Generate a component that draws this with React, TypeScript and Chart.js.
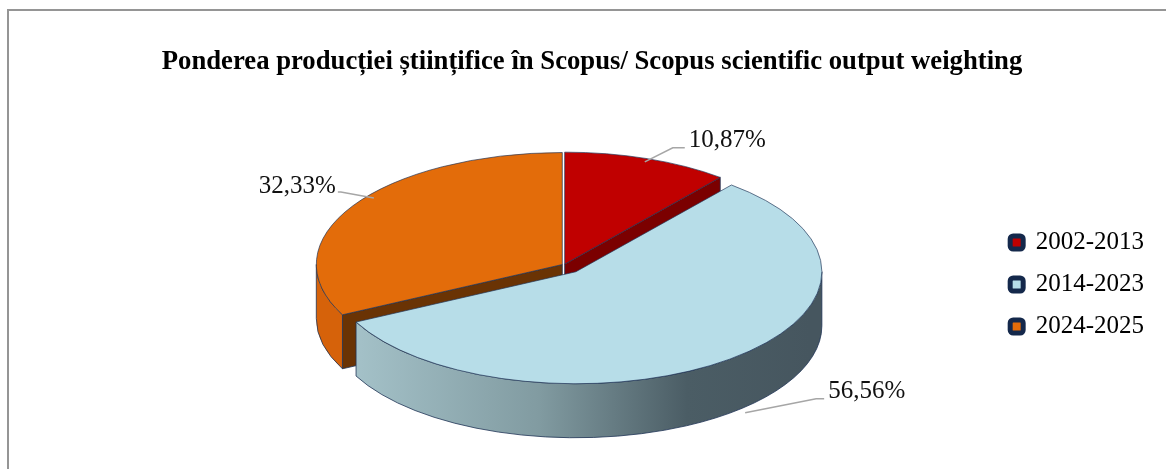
import React, { useEffect, useRef } from "react";
import { Chart, registerables } from "chart.js";

Chart.register(...registerables);

const TITLE = "Ponderea producției științifice în Scopus/ Scopus scientific output weighting";
const categories = ["2002-2013", "2014-2023", "2024-2025"];
const shares = [10.87, 56.56, 32.33];
const valueLabels = shares.map((v) => v.toFixed(2).replace(".", ",") + "%");

const topColors = ["#c00000", "#b7dde8", "#e36c0a"];
const cutColors = ["#7b0000", "#5f7c86", "#6a3304"];
const wallColors = ["#8a0000", "gradient", "#d6620a"];
const explode = [2, 19, 2];

// 3D pie geometry on screen
const CX = 564;
const CY = 265;
const RX = 246;
const RY = 112;
const DEPTH = 54;
const OUTLINE = "#1f3355";

function pie3dPlugin() {
  return {
    id: "pie3d",
    beforeDatasetsDraw(chart: any) {
      const ctx = chart.ctx;
      const meta = chart.getDatasetMeta(0);
      const arcs = meta.data as any[];
      const order = [0, 2, 1];
      for (const i of order) {
        const arc = arcs[i];
        const p = arc.getProps(["x", "y", "startAngle", "endAngle", "outerRadius"], true);
        const R = p.outerRadius;
        const kx = RX / R;
        const ky = RY / R;
        const a = p.startAngle;
        const b = p.endAngle;
        const mid = (a + b) / 2;
        const ox = Math.cos(mid) * explode[i];
        const oy = Math.sin(mid) * explode[i] * (RY / RX);
        const cx = CX + ox;
        const cy = CY + oy;

        ctx.save();
        ctx.lineWidth = 0.8;
        ctx.strokeStyle = OUTLINE;
        ctx.lineJoin = "round";
        const faces: number[] = [];
        if (Math.cos(a) < -1e-6) faces.push(a);
        if (Math.cos(b) > 1e-6) faces.push(b);
        for (const t of faces) {
          const px = cx + RX * Math.cos(t);
          const py = cy + RY * Math.sin(t);
          ctx.beginPath();
          ctx.moveTo(cx, cy);
          ctx.lineTo(px, py);
          ctx.lineTo(px, py + DEPTH);
          ctx.lineTo(cx, cy + DEPTH);
          ctx.closePath();
          ctx.fillStyle = cutColors[i];
          ctx.fill();
          ctx.stroke();
        }
        for (let k = -1; k <= 1; k++) {
          const lo = Math.max(a, 2 * Math.PI * k);
          const hi = Math.min(b, 2 * Math.PI * k + Math.PI);
          if (hi - lo <= 1e-6) continue;
          ctx.beginPath();
          ctx.ellipse(cx, cy, RX, RY, 0, lo, hi);
          ctx.ellipse(cx, cy + DEPTH, RX, RY, 0, hi, lo, true);
          ctx.closePath();
          if (wallColors[i] === "gradient") {
            const g = ctx.createLinearGradient(CX - RX, 0, CX + RX, 0);
            g.addColorStop(0, "#abc9d0");
            g.addColorStop(0.45, "#819ba1");
            g.addColorStop(0.75, "#4b5d65");
            g.addColorStop(1, "#46565f");
            ctx.fillStyle = g;
          } else {
            ctx.fillStyle = wallColors[i];
          }
          ctx.fill();
          ctx.stroke();
        }
        ctx.restore();

        ctx.save();
        ctx.translate(cx, cy);
        ctx.scale(kx, ky);
        ctx.translate(-p.x, -p.y);
        arc.draw(ctx);
        ctx.restore();
      }
      return false;
    },
    afterDraw(chart: any) {
      const ctx = chart.ctx;
      const meta = chart.getDatasetMeta(0);
      const arcs = meta.data as any[];
      // leader layout: [radial factor, depth fraction, elbow dx, elbow dy, tail dx]
      const leaders = [
        [0.97, 0, 28, -14, 12],
        [1.1, 0.83, 71, -14, 8],
        [0.9, -0.25, -33, -6, -3],
      ];
      ctx.save();
      ctx.font = '25px "Liberation Serif"';
      ctx.textBaseline = "middle";
      for (let i = 0; i < arcs.length; i++) {
        const p = arcs[i].getProps(["startAngle", "endAngle"], true);
        const mid = (p.startAngle + p.endAngle) / 2;
        const ox = Math.cos(mid) * explode[i];
        const oy = Math.sin(mid) * explode[i] * (RY / RX);
        const [f, dFrac, ex, ey, tx] = leaders[i];
        const ax = CX + ox + RX * f * Math.cos(mid);
        const ay = CY + oy + RY * f * Math.sin(mid) + DEPTH * dFrac;
        const bx = ax + ex;
        const by = ay + ey;
        const endX = bx + tx;
        ctx.beginPath();
        ctx.moveTo(ax, ay);
        ctx.lineTo(bx, by);
        ctx.lineTo(endX, by);
        ctx.strokeStyle = "#a6a6a6";
        ctx.lineWidth = 1.5;
        ctx.stroke();
        ctx.fillStyle = "#111111";
        if (ex >= 0) {
          ctx.textAlign = "left";
          ctx.fillText(valueLabels[i], endX + 4, by - 7);
        } else {
          ctx.textAlign = "right";
          ctx.fillText(valueLabels[i], endX - 2, by - 6);
        }
      }
      ctx.restore();
    },
  };
}

export default function App() {
  const ref = useRef<HTMLCanvasElement | null>(null);
  useEffect(() => {
    if (!ref.current) return;
    Chart.defaults.font.family = '"Liberation Serif", "Times New Roman", serif';
    const chart = new Chart(ref.current, {
      type: "pie",
      data: {
        labels: categories,
        datasets: [
          {
            data: shares,
            backgroundColor: topColors,
            borderColor: OUTLINE,
            borderWidth: 0.9,
          },
        ],
      },
      options: {
        responsive: false,
        animation: false,
        events: [],
        layout: { padding: { left: 30, right: 46, top: 0, bottom: 31 } },
        plugins: {
          tooltip: { enabled: false },
          title: {
            display: true,
            text: TITLE,
            color: "#000000",
            font: { family: '"Liberation Serif"', size: 26.7, weight: "bold" },
            padding: { top: 46, bottom: 10 },
          },
          legend: {
            display: true,
            position: "right",
            align: "center",
            labels: {
              color: "#000000",
              font: { family: '"Liberation Serif"', size: 25 },
              boxWidth: 13,
              boxHeight: 13,
              padding: 17,
              useBorderRadius: true,
              borderRadius: 3,
              generateLabels: () =>
                categories.map((t, i) => ({
                  text: t,
                  fillStyle: topColors[i],
                  strokeStyle: "#14284b",
                  lineWidth: 5,
                  hidden: false,
                  index: i,
                  fontColor: "#000000",
                  borderRadius: 3,
                })),
            },
          },
        },
      } as any,
      plugins: [pie3dPlugin()],
    });
    return () => chart.destroy();
  }, []);

  return (
    <div style={{ position: "fixed", left: 0, top: 0, width: 1166, height: 469, overflow: "hidden", background: "#ffffff" }}>
      <div
        style={{
          position: "absolute",
          left: 7,
          top: 9,
          width: 1200,
          height: 600,
          borderTop: "2px solid #959595",
          borderLeft: "2px solid #959595",
        }}
      />
      <canvas ref={ref} width={1200} height={600} style={{ position: "absolute", left: 0, top: 0 }} />
    </div>
  );
}
